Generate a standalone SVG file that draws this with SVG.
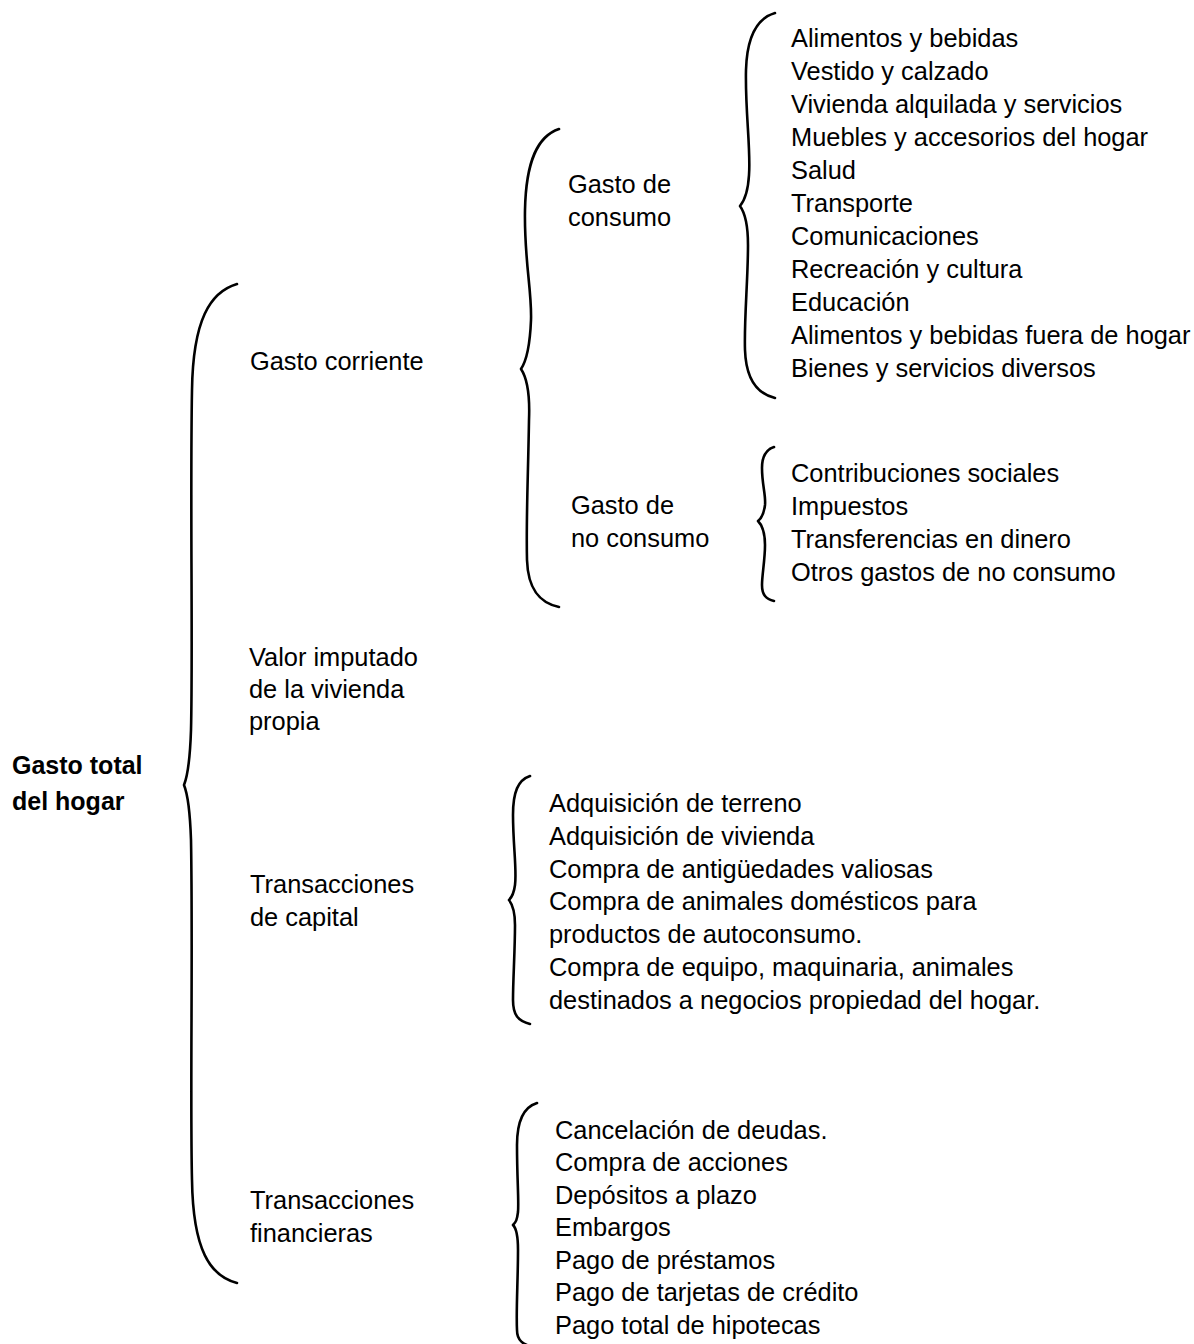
<svg xmlns="http://www.w3.org/2000/svg" width="1194" height="1344" viewBox="0 0 1194 1344">
<style>
text{font-family:"Liberation Sans",Arial,sans-serif;font-size:25.4px;fill:#000}
.b{font-weight:bold;font-size:25px}
.br{fill:none;stroke:#000;stroke-width:2.6;stroke-linecap:round;stroke-linejoin:round}
</style>
<rect width="1194" height="1344" fill="#fff"/>
<g id="connectors">
<path class="br" d="M237,284 C210,292 193,320 192,390 C190,500 193,650 191,730 C190,760 188,775 184,785 C188,795 190,810 191,840 C193,950 190,1100 192,1180 C193,1250 210,1276 237,1283"/>
<path class="br" d="M559,129 C538,136 526,160 525,210 C524,260 532,290 531,320 C530,345 527,360 521,369 C527,378 530,395 529,420 C528,480 526,520 527,560 C528,590 540,603 559,607"/>
<path class="br" d="M775,13 C758,18 747,35 746,70 C745,110 751,150 749,175 C748,192 745,200 740,206 C745,213 748,225 748,245 C748,280 744,320 745,350 C746,380 758,394 775,398"/>
<path class="br" d="M774,447 C765,450 762,458 762,468 C762,485 766,495 765,505 C764,513 762,518 758,521 C762,525 765,533 765,545 C765,560 762,575 762,585 C762,595 766,599 774,601"/>
<path class="br" d="M530,776 C518,780 513,792 513,815 C513,845 517,870 515,885 C514,893 512,897 509,900 C512,904 515,912 515,925 C515,950 513,980 513,1000 C513,1015 518,1021 530,1024"/>
<path class="br" d="M537,1103 C524,1107 517,1120 517,1145 C517,1180 519,1200 518,1212 C517,1220 516,1222 513,1225 C516,1228 518,1235 518,1250 C518,1280 516,1310 517,1330 C517,1340 522,1345 537,1348"/>
</g>
<g id="root"><text class="b" x="12" y="774">Gasto total</text><text class="b" x="12" y="810">del hogar</text></g>
<g id="gasto-corriente"><text x="250" y="370">Gasto corriente</text></g>
<g id="gasto-consumo"><text x="568" y="193">Gasto de</text><text x="568" y="226">consumo</text></g>
<g id="lista-consumo">
<text x="791" y="47">Alimentos y bebidas</text>
<text x="791" y="80">Vestido y calzado</text>
<text x="791" y="113">Vivienda alquilada y servicios</text>
<text x="791" y="146">Muebles y accesorios del hogar</text>
<text x="791" y="179">Salud</text>
<text x="791" y="212">Transporte</text>
<text x="791" y="245">Comunicaciones</text>
<text x="791" y="278">Recreación y cultura</text>
<text x="791" y="311">Educación</text>
<text x="791" y="344">Alimentos y bebidas fuera de hogar</text>
<text x="791" y="377">Bienes y servicios diversos</text>
</g>
<g id="gasto-no-consumo"><text x="571" y="514">Gasto de</text><text x="571" y="547">no consumo</text></g>
<g id="lista-no-consumo">
<text x="791" y="482">Contribuciones sociales</text>
<text x="791" y="515">Impuestos</text>
<text x="791" y="548">Transferencias en dinero</text>
<text x="791" y="581">Otros gastos de no consumo</text>
</g>
<g id="valor-imputado"><text x="249" y="666">Valor imputado</text><text x="249" y="698">de la vivienda</text><text x="249" y="730">propia</text></g>
<g id="transacciones-capital"><text x="250" y="893">Transacciones</text><text x="250" y="926">de capital</text></g>
<g id="lista-capital">
<text x="549" y="812">Adquisición de terreno</text>
<text x="549" y="845">Adquisición de vivienda</text>
<text x="549" y="878">Compra de antigüedades valiosas</text>
<text x="549" y="910">Compra de animales domésticos para</text>
<text x="549" y="943">productos de autoconsumo.</text>
<text x="549" y="976">Compra de equipo, maquinaria, animales</text>
<text x="549" y="1009">destinados a negocios propiedad del hogar.</text>
</g>
<g id="transacciones-financieras"><text x="250" y="1209">Transacciones</text><text x="250" y="1242">financieras</text></g>
<g id="lista-financieras">
<text x="555" y="1139">Cancelación de deudas.</text>
<text x="555" y="1171">Compra de acciones</text>
<text x="555" y="1204">Depósitos a plazo</text>
<text x="555" y="1236">Embargos</text>
<text x="555" y="1269">Pago de préstamos</text>
<text x="555" y="1301">Pago de tarjetas de crédito</text>
<text x="555" y="1334">Pago total de hipotecas</text>
</g>
</svg>
